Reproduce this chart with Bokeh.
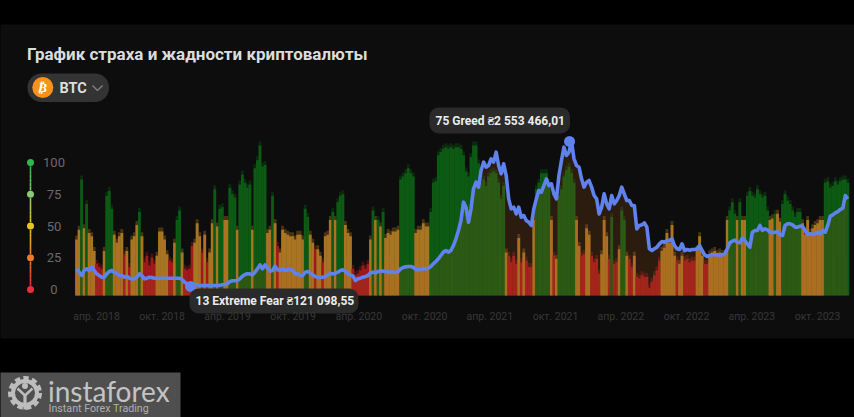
from datetime import datetime
from bokeh.plotting import figure
from bokeh.models import Range1d, LinearAxis, FixedTicker
from bokeh.core.properties import value
from bokeh.embed import file_html
from bokeh.resources import INLINE

TITLE = "График страха и жадности криптовалюты"
TICKER = "BTC"
tick_dates = ["2018-04-01","2018-10-01","2019-04-01","2019-10-01","2020-04-01","2020-10-01",
              "2021-04-01","2021-10-01","2022-04-01","2022-10-01","2023-04-01","2023-10-01"]
tick_labels = ["апр. 2018","окт. 2018","апр. 2019","окт. 2019","апр. 2020","окт. 2020",
               "апр. 2021","окт. 2021","апр. 2022","окт. 2022","апр. 2023","окт. 2023"]
gauge_values = [0,25,50,75,100]
gauge_colors = ["#e8303c","#e87c2c","#e8c81e","#8cc878","#34b44c"]
first_week = "2018-02-01"

# Fear & greed index, one value per week
fg = [37,43,74,44,59,41,39,30,22,20,19,30,64,67,56,40,35,39,41,28,30,20,37,39,46,54,39,23,27,21,26,22,27,42,42,37,28,24,23,35,49,55,29,19,18,19,33,35,47,39,
      29,40,23,29,47,68,45,56,57,49,49,69,65,63,43,71,77,72,69,71,43,81,86,95,82,83,41,43,64,47,33,29,43,41,40,39,39,37,40,40,37,56,51,40,35,31,31,27,23,39,40,49,
      54,49,60,64,65,46,41,39,19,15,16,18,21,19,22,37,55,49,49,45,54,38,41,40,42,42,43,74,76,78,81,78,76,41,43,43,47,45,45,54,72,73,89,91,93,94,93,94,93,94,94,93,
      89,79,76,88,95,95,84,72,74,70,76,78,79,78,72,62,70,29,27,23,27,22,38,23,29,24,20,20,49,68,72,78,78,78,72,49,27,25,64,68,76,80,82,78,72,49,33,27,28,44,40,27,
      23,25,16,28,49,39,25,51,22,23,31,55,49,27,25,20,27,14,13,15,14,14,7,11,15,18,24,30,32,41,35,46,27,24,22,27,24,25,23,24,24,31,39,27,22,22,28,29,30,28,29,28,28,
      49,55,60,53,49,60,49,49,64,67,64,63,68,65,63,64,55,49,50,53,53,48,59,65,61,59,55,51,54,54,47,40,49,41,44,46,47,49,49,72,73,69,70,73,71,73,74,74,72]
# Class of each week: R fear, O neutral, G greed
fg_class = ("OOGOGOOORR" "ROGGGOOOOR" "OROOOGORRR" "RROOOOORRO" "GGORRRROOO"
            "ROROOGOGGO" "OGGGOGGGGG" "OGGGGGOOGO" "ROOOOOOOOO" "OGGOOROORO"
            "OOGOGGGOOO" "RRRRRRROGO" "GOGOOOOOOG" "GGGGGOOOOO" "OGGGGGGGGG"
            "GGGGGGGGGG" "GGGGGGGGGG" "GORRRROROR" "RROGGGGGGO" "ROGGGGGGGO"
            "ORROORRRRO" "OORGRROGGO" "RRORRRRRRR" "RRROOOOOOR" "OORRRRROOO"
            "RROOOOOOOO" "GGGOGOOGGG" "GGGGGGOOGO" "OGGGGGGGGO" "OOOOOOOOGG"
            "GGGGGGGG")
# BTC price in thousand UAH, one value per week
price = [417,361,305,389,417,389,445,389,333,305,277,277,333,372,389,361,333,305,305,277,294,260,249,249,277,333,305,249,260,277,272,260,260,260,260,260,260,260,260,260,260,260,238,193,165,126,121,149,149,137,137,143,
         137,137,137,137,137,143,149,155,165,205,216,216,221,249,294,322,333,333,316,361,417,484,417,484,428,378,389,462,400,389,417,389,400,406,389,333,333,305,305,361,372,350,316,288,277,277,277,288,316,339,
         333,344,361,389,400,378,333,316,294,221,249,260,277,288,305,350,361,350,372,383,378,372,367,361,361,355,372,417,439,450,456,456,445,406,400,411,417,417,428,456,501,540,585,641,697,724,697,724,808,920,1060,1228,
         1535,1450,1200,1423,1759,1870,1787,2066,2206,2122,2150,2262,2206,2374,2150,2010,2178,1982,1591,1423,1451,1339,1451,1283,1311,1228,1200,1144,1423,1591,1731,1703,1814,1926,1814,1842,1675,1591,1982,2234,2457,2318,2374,2553,2262,2150,2122,1926,1787,1870,1898,1787,
         1647,1591,1339,1451,1675,1507,1423,1647,1507,1563,1647,1787,1675,1563,1563,1479,1479,1088,1144,1155,1188,1116,752,724,752,780,836,875,864,892,892,920,808,752,741,836,724,741,730,741,741,752,808,724,652,624,641,652,652,652,641,652,
         669,753,853,881,898,864,853,931,892,836,780,1032,1060,1060,1144,1060,1088,1071,1032,1021,1032,1043,987,976,1144,1172,1172,1155,1116,1116,1133,1127,1060,993,1004,993,1004,1032,1004,1060,1032,1144,1300,1322,1356,1378,1412,1434,1647,1591,1619]
low_label = "13 Extreme Fear ₴121 098,55"
low_date, low_price = "2018-12-19", 121.09855
high_label = "75 Greed ₴2 553 466,01"
high_date, high_price = "2021-11-09", 2553.46601

W, H = 854, 417
DAY = 86400000.0
def ms(s):
    return (datetime.strptime(s, "%Y-%m-%d") - datetime(1970,1,1)).total_seconds()*1000
PX_DAY = 0.3589
x0 = ms("2018-04-01") - 96/PX_DAY*DAY
X = lambda px: x0 + px/PX_DAY*DAY
FG_PX, BASE = 1.62, 295.0
Y = lambda py: (BASE-py)/FG_PX
PRICE_PX, PRICE_ZERO = 16.77, 293.2
AX_PX, AX_ZERO = 1.27, 289.0

p = figure(width=W, height=H, output_backend="svg", toolbar_location=None,
           x_range=Range1d(X(0), X(W)), y_range=Range1d(Y(H), Y(0)),
           x_axis_location=None, y_axis_location=None, min_border=0,
           background_fill_color="#000000", border_fill_color="#000000", outline_line_color=None)
p.grid.visible = False
p.extra_y_ranges = {
    "price": Range1d((PRICE_ZERO-H)*PRICE_PX, PRICE_ZERO*PRICE_PX),
    "axis": Range1d((AX_ZERO-H)/AX_PX, AX_ZERO/AX_PX),
}
PY = lambda py: (PRICE_ZERO-py)*PRICE_PX

def mix(a,b,t):
    ca=[int(a[i:i+2],16) for i in (1,3,5)]; cb=[int(b[i:i+2],16) for i in (1,3,5)]
    return "#%02x%02x%02x"%tuple(int(ca[k]+(cb[k]-ca[k])*t) for k in range(3))

# card
p.quad(left=[X(-20)], right=[X(W+20)], top=[Y(24)], bottom=[Y(338)], fill_color="#0d0d0d",
       line_color=None, border_radius=12)

# bars
n = min(len(fg), len(fg_class), len(price))
t0 = ms(first_week)
xs = [t0 + (i+0.5)*7*DAY for i in range(n)]
COL = {"R":"#a2181b","O":"#aa7522","G":"#0c5a13"}
cols = [COL[c] for c in fg_class[:n]]
dims = [mix(c,"#0d0d0d",0.62) for c in cols]
FR = 4.0/FG_PX
p.vbar(x=xs, top=fg[:n], bottom=0, width=7.9*DAY, fill_color=dims, line_color=None)
p.vbar(x=xs, top=[max(v-FR,0.5) for v in fg[:n]], bottom=0, width=7.9*DAY, fill_color=cols, line_color=None)

# price area + line
pr = price[:n]
p.varea(x=xs, y1=[PY(BASE)]*n, y2=pr, fill_color="#aa5a1e", fill_alpha=0.2, y_range_name="price")
p.line(xs, pr, line_color="#5f82ee", line_width=3.6, line_join="round", y_range_name="price")
p.scatter([ms(low_date), ms(high_date)], [low_price, high_price], size=11, fill_color="#5f82ee",
          line_color=None, y_range_name="price")

# x axis
xax = LinearAxis(fixed_location=Y(296), ticker=FixedTicker(ticks=[ms(d) for d in tick_dates]),
                 major_label_overrides={int(ms(d)): l for d,l in zip(tick_dates,tick_labels)},
                 major_tick_line_color=None, minor_tick_line_color=None, axis_line_color=None,
                 major_label_text_color="#383838", major_label_text_font="Roboto",
                 major_label_text_font_size="10.5px", major_label_standoff=7)
p.add_layout(xax, "below")

# gauge with its centred scale labels
gx = X(30)
for i in range(4):
    for j in range(6):
        lo, hi = gauge_values[i], gauge_values[i+1]
        a = lo+(hi-lo)*(0.12+0.76*j/6); b = lo+(hi-lo)*(0.12+0.76*(j+1)/6)
        p.segment(x0=[gx],x1=[gx],y0=[a],y1=[b],line_color=mix(gauge_colors[i],gauge_colors[i+1],(j+.5)/6),
                  line_width=1.6,y_range_name="axis")
p.scatter([gx]*5, gauge_values, size=7, fill_color=gauge_colors, line_color=None, y_range_name="axis")
p.text([X(53.5)]*5, gauge_values, text=[str(v) for v in gauge_values], text_font=value("Roboto"),
       text_font_size="13px", text_color="#6a6a6a", text_align="center", text_baseline="middle",
       y_range_name="axis")

def text(px,py,s,size,color,font="Roboto",style="normal",align="left",angle=0):
    p.text([X(px)],[Y(py)],text=[s],text_font=value(font),text_font_size=f"{size}px",text_color=color,
           text_font_style=style,text_align=align,text_baseline="middle",angle=angle)

text(26.5,53,TITLE,17,"#dcdcdc",style="bold")
# pill
p.quad(left=[X(27)],right=[X(108.5)],top=[Y(73)],bottom=[Y(101.5)],fill_color="#333333",line_color=None,border_radius=14)
p.scatter([X(42.3)],[Y(87)],size=21,fill_color="#f7931a",line_color=None)
text(42.3,87,"₿",13,"#ffffff",font="DejaVu Sans",style="bold",align="center",angle=-0.2)
text(59,87.5,TICKER,14.5,"#dedede",style="bold")
p.line([X(92),X(97),X(102)],[Y(85),Y(90),Y(85)],line_color="#808080",line_width=1.4)

# tooltips
p.quad(left=[X(189)],right=[X(358)],top=[Y(288)],bottom=[Y(313)],fill_color="#2a2a2a",line_color=None,border_radius=9)
text(195,300.5,low_label,12,"#ececec",style="bold")
p.quad(left=[X(429)],right=[X(569.5)],top=[Y(107)],bottom=[Y(133)],fill_color="#2a2a2a",line_color=None,border_radius=9)
text(435,120.5,high_label,12,"#ececec",style="bold")

# watermark
GR = "#bdbdbd"
p.quad(left=[X(-5)],right=[X(180)],top=[Y(372)],bottom=[Y(H+5)],fill_color="#4f4f4f",line_color=None)
p.scatter([X(24.5)],[Y(392.5)],size=28,fill_color=None,line_color=GR,line_width=6,line_dash="5 3")
p.scatter([X(24.5)],[Y(392.5)],size=24,fill_color=None,line_color=GR,line_width=4)
p.scatter([X(24.5)],[Y(385.5)],size=6,fill_color=GR,line_color=None)
p.line([X(17),X(24.5),X(32)],[Y(388),Y(395),Y(388)],line_color=GR,line_width=2.4)
p.line([X(24.5),X(24.5)],[Y(395),Y(409)],line_color=GR,line_width=3.2)
text(47.5,390.5,"instaforex",28,"#c4c4c4",font="Lato")
text(48,408,"Instant Forex Trading",10.7,"#b0b0b0",font="Roboto")

html = file_html(p, INLINE)
html = html.replace("<head>", "<head><style>html,body{margin:0;padding:0;background:#000;overflow:hidden}</style>",1)
open("out.html","w").write(html)
